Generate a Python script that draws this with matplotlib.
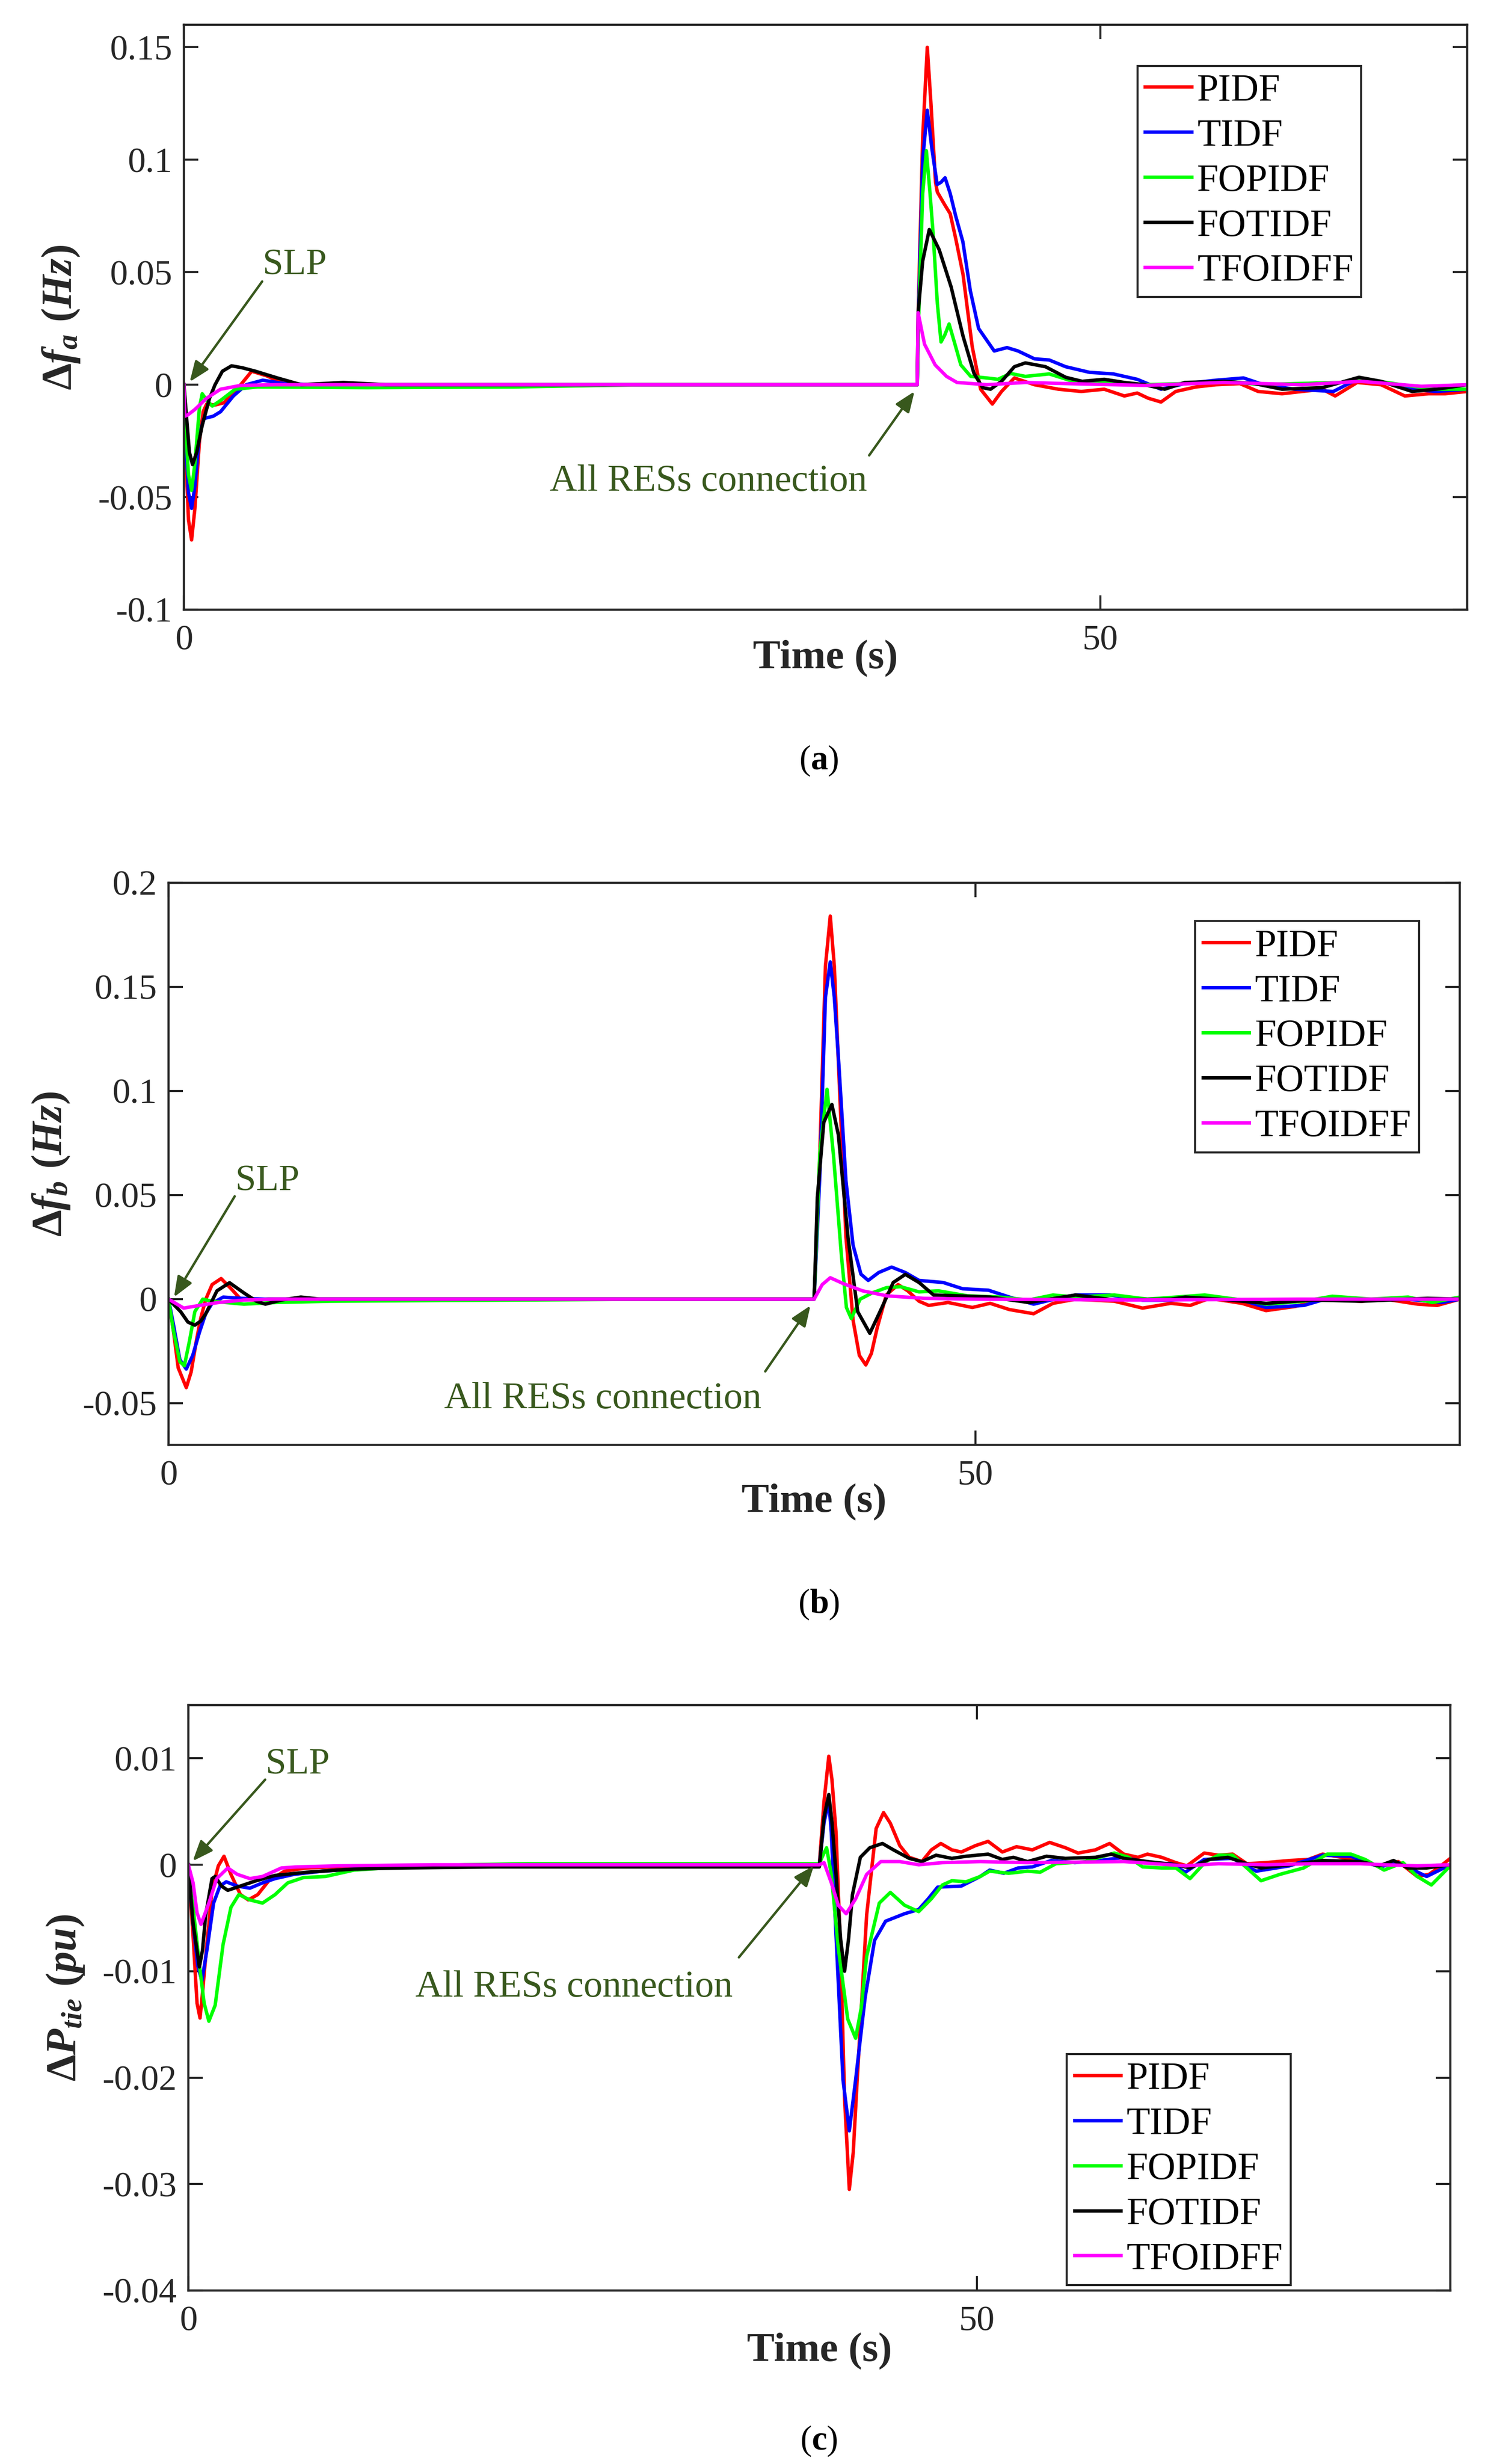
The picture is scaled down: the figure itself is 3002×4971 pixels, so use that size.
import numpy as np
import matplotlib
matplotlib.use("Agg")
import matplotlib.pyplot as plt

plt.rcParams['font.family'] = ['Liberation Serif', 'DejaVu Serif']
plt.rcParams['mathtext.fontset'] = 'custom'
plt.rcParams['mathtext.rm'] = 'Liberation Serif:bold'
plt.rcParams['mathtext.it'] = 'Liberation Serif:italic:bold'
plt.rcParams['mathtext.bf'] = 'Liberation Serif:bold'

labels = ['PIDF', 'TIDF', 'FOPIDF', 'FOTIDF', 'TFOIDFF']
colors = ['#ff0000', '#0000ff', '#00ff00', '#000000', '#ff00ff']

# ---------------- panel (a): delta f_a ----------------
ta_pidf = [0, 0.1, 0.25, 0.42, 0.6, 0.85, 1.05, 1.24, 1.7, 2.2, 2.6, 3.1, 3.7, 4.5, 5.6, 10, 40,
           40.08, 40.3, 40.55, 40.75, 41.0, 41.1, 41.5, 41.8, 42.1, 42.5, 43.0, 43.46, 44.1, 44.6,
           45.3, 46.4, 47.7, 48.95, 50.2, 51.3, 52.0, 52.6, 53.3, 54.1, 55.2, 56.3, 57.6, 58.6,
           59.9, 61.0, 62.1, 62.8, 64.0, 65.3, 66.6, 67.9, 68.8, 70]
fa_pidf = [0, -0.03, -0.06, -0.069, -0.055, -0.025, -0.012, -0.0086, -0.009, -0.008, -0.004, 0.0,
           0.006, 0.004, 0.0, 0, 0,
           0.04, 0.11, 0.15, 0.125, 0.09, 0.0856, 0.08, 0.076, 0.065, 0.049, 0.017, -0.002, -0.0086,
           -0.003, 0.003, 0.0, -0.002, -0.003, -0.002, -0.005, -0.0037, -0.006, -0.0077, -0.003,
           -0.001, 0.0, 0.0005, -0.003, -0.004, -0.003, -0.002, -0.005, 0.001, 0.0, -0.005, -0.004,
           -0.004, -0.003]
ta_tidf = [0, 0.1, 0.25, 0.42, 0.6, 0.85, 1.1, 1.6, 2.0, 2.7, 3.4, 4.3, 5.5, 7.0, 40,
           40.08, 40.3, 40.55, 40.8, 41.09, 41.3, 41.52, 41.8, 42.1, 42.49, 42.9, 43.35, 43.8,
           44.2, 44.9, 45.5, 46.4, 47.2, 48.1, 49.4, 50.7, 52.0, 53.3, 54.6, 56.3, 57.8, 58.9,
           60.6, 62.7, 64.0, 65.8, 67.0, 68.3, 70]
fa_tidf = [0, -0.025, -0.048, -0.055, -0.045, -0.022, -0.015, -0.014, -0.012, -0.005, 0.0, 0.002,
           0.0005, 0, 0,
           0.035, 0.1, 0.122, 0.105, 0.089, 0.09, 0.092, 0.085, 0.075, 0.0636, 0.0417, 0.025,
           0.0197, 0.015, 0.0165, 0.015, 0.0115, 0.011, 0.008, 0.0055, 0.0048, 0.0024, -0.002,
           0.0005, 0.002, 0.003, 0.0, -0.002, -0.003, 0.0024, 0.0005, -0.002, -0.003, -0.002]
ta_fopidf = [0, 0.1, 0.25, 0.42, 0.6, 0.85, 1.0, 1.25, 1.55, 2.0, 2.8, 4.0, 10, 18, 25, 40,
             40.08, 40.3, 40.5, 40.7, 40.87, 41.1, 41.3, 41.5, 41.74, 42.06, 42.38, 42.92, 43.8,
             44.4, 45.1, 45.9, 47.2, 48.5, 50.2, 52.4, 54.6, 56.7, 58.9, 60.6, 63.2, 64.5, 66.4,
             68.3, 70]
fa_fopidf = [0, -0.02, -0.04, -0.047, -0.035, -0.01, -0.004, -0.007, -0.0095, -0.007, -0.002,
             -0.001, -0.0013, -0.001, 0, 0,
             0.03, 0.085, 0.104, 0.085, 0.067, 0.036, 0.019, 0.022, 0.027, 0.018, 0.0088, 0.0037,
             0.003, 0.0024, 0.005, 0.0037, 0.0048, 0.0015, 0.001, 0.0, 0.0005, 0.0015, 0.0, 0.0005,
             0.001, 0.0024, 0.0, -0.002, -0.002]
ta_fotidf = [0, 0.15, 0.3, 0.47, 0.7, 1.0, 1.4, 1.7, 2.1, 2.6, 3.2, 3.9, 5.1, 6.4, 8.7, 11, 40,
             40.05, 40.3, 40.66, 41.2, 41.85, 42.5, 43.1, 43.57, 44.0, 44.6, 45.3, 45.9, 47.0,
             48.1, 49.0, 50.2, 51.3, 52.4, 53.5, 54.6, 56.7, 58.4, 59.9, 62.1, 64.1, 65.3, 67.0,
             68.3, 70]
fa_fotidf = [0, -0.015, -0.03, -0.0355, -0.03, -0.018, -0.006, 0.0, 0.006, 0.0084, 0.0075, 0.006,
             0.003, 0.0, 0.001, 0, 0,
             0.032, 0.055, 0.069, 0.06, 0.0435, 0.0216, 0.005, -0.0013, -0.002, 0.0015, 0.008,
             0.0097, 0.008, 0.0033, 0.0015, 0.0024, 0.001, 0.0, -0.002, 0.001, 0.0015, 0.0005,
             -0.002, -0.0013, 0.0033, 0.0015, -0.003, -0.002, 0.0]
ta_tfoidff = [0, 0.05, 0.2, 0.6, 1.24, 2.0, 3.1, 5, 40,
              40.05, 40.4, 40.98, 41.6, 42.17, 43.8, 45.9, 48.1, 52.4, 56.7, 61.0, 64.2, 67.5, 70]
fa_tfoidff = [0, -0.014, -0.0135, -0.011, -0.006, -0.002, -0.0003, 0, 0,
              0.032, 0.018, 0.0088, 0.0037, 0.001, 0.0, 0.001, 0.0005, -0.0003, 0.001, 0.0,
              0.0015, -0.0007, 0.0]

# ---------------- panel (b): delta f_b ----------------
tb_pidf = [0, 0.3, 0.6, 1.1, 1.4, 1.73, 2.0, 2.31, 2.7, 3.26, 3.88, 4.47, 5.26, 6.2, 40,
           40.35, 40.7, 41.0, 41.25, 41.53, 41.97, 42.41, 42.8, 43.2, 43.55, 43.9, 44.47, 45.2,
           45.8, 46.5, 47.1, 48.3, 49.8, 50.9, 52.1, 53.6, 54.8, 56.2, 58.6, 60.35, 62.1, 63.3,
           64.5, 66.5, 68.0, 69.8, 71.5, 73.9, 75.4, 77.4, 78.6, 80]
fb_pidf = [0, -0.015, -0.033, -0.0425, -0.035, -0.0198, -0.009, 0.0, 0.007, 0.0099, 0.005, 0.0,
           -0.0004, 0, 0,
           0.069, 0.16, 0.184, 0.16, 0.109, 0.03, -0.01, -0.027, -0.0316, -0.026, -0.014, 0.002,
           0.007, 0.004, -0.001, -0.003, -0.0016, -0.004, -0.002, -0.005, -0.007, -0.002, 0.0,
           -0.001, -0.0043, -0.002, -0.003, 0.0004, -0.002, -0.0055, -0.0035, 0.0, -0.001, 0.0,
           -0.0024, -0.003, 0.0]
tb_tidf = [0, 0.3, 0.7, 1.1, 1.5, 1.92, 2.3, 2.7, 3.39, 4.5, 6, 40,
           40.35, 40.7, 41.0, 41.25, 41.53, 41.97, 42.41, 42.9, 43.35, 44.0, 44.8, 45.65, 46.5,
           48.0, 49.2, 50.8, 52.1, 53.6, 55.1, 56.2, 58.3, 60.35, 62.1, 64.5, 66.5, 68.0, 70.35,
           72.1, 73.9, 76.8, 78.9, 80]
fb_tidf = [0, -0.012, -0.029, -0.0336, -0.027, -0.0158, -0.007, -0.002, 0.001, 0.0004, 0, 0,
           0.059, 0.145, 0.162, 0.145, 0.113, 0.057, 0.026, 0.012, 0.009, 0.0128, 0.0154, 0.0128,
           0.009, 0.008, 0.005, 0.0043, 0.001, -0.0024, 0.0004, 0.002, 0.002, -0.0005, -0.0005,
           0.001, -0.0004, -0.004, -0.003, 0.001, -0.0004, 0.0, -0.0016, 0.0]
tb_fopidf = [0, 0.3, 0.7, 0.98, 1.3, 1.63, 2.12, 2.7, 4.67, 6.6, 10, 20, 30, 40,
             40.35, 40.8, 41.2, 41.7, 42.0, 42.3, 42.85, 43.6, 44.47, 45.35, 46.5, 47.7, 49.5,
             51.5, 53.3, 54.8, 56.2, 58.6, 60.65, 64.2, 66.5, 68.0, 70.35, 72.1, 74.5, 76.8, 78.3,
             80]
fb_fopidf = [0, -0.015, -0.03, -0.032, -0.02, -0.006, 0.0, -0.001, -0.0024, -0.0016, -0.001,
             -0.0005, 0, 0,
             0.07, 0.1008, 0.069, 0.02, -0.004, -0.0093, 0.0, 0.003, 0.0055, 0.006, 0.0035, 0.004,
             0.0016, 0.001, -0.0004, 0.002, 0.001, 0.002, 0.0, 0.002, -0.0004, -0.0024, -0.001,
             0.0014, 0.0, 0.001, -0.0016, 0.001]
tb_fotidf = [0, 0.75, 1.2, 1.63, 2.0, 2.31, 3.0, 3.78, 4.67, 5.45, 6.0, 7.0, 8.2, 9.4, 40,
             40.2, 40.6, 41.1, 41.5, 42.1, 42.7, 43.45, 44.2, 44.9, 45.65, 46.5, 47.4, 48.9, 50.9,
             53.3, 56.2, 58.6, 62.1, 63.0, 65.1, 68.0, 70.9, 73.9, 78.0, 80]
fb_fotidf = [0, -0.006, -0.011, -0.0125, -0.0105, -0.007, 0.004, 0.0079, 0.003, -0.001, -0.0024,
             -0.0004, 0.001, 0, 0,
             0.049, 0.085, 0.0935, 0.079, 0.0296, -0.006, -0.0164, -0.004, 0.008, 0.0119, 0.008,
             0.002, 0.0016, 0.001, -0.0016, 0.002, -0.0004, 0.0, 0.001, 0.0, -0.002, -0.0004,
             -0.001, 0.0004, 0.0]
tb_tfoidff = [0, 0.94, 1.92, 3.1, 4.67, 6.6, 40,
              40.5, 41.0, 41.8, 43.0, 44.5, 46.8, 50, 60, 70, 80]
fb_tfoidff = [0, -0.0043, -0.003, -0.0016, -0.0004, 0, 0,
              0.007, 0.0103, 0.0075, 0.004, 0.0016, 0.0004, 0.0, -0.0004, 0.0, 0.0]

# ---------------- panel (c): delta P_tie ----------------
tc_pidf = [0, 0.3, 0.55, 0.74, 0.9, 1.1, 1.5, 1.9, 2.26, 2.7, 3.3, 3.8, 4.4, 5.1, 6.1, 7.5, 9.5,
           13.5, 30, 40,
           40.3, 40.6, 40.8, 41.06, 41.36, 41.6, 41.9, 42.15, 42.4, 43.0, 43.6, 44.07, 44.5, 45.1,
           45.7, 46.5, 47.1, 47.7, 48.4, 49.0, 49.9, 50.7, 51.6, 52.5, 53.5, 54.6, 55.6, 56.4,
           57.5, 58.4, 59.3, 60.2, 60.8, 61.7, 62.6, 63.3, 64.4, 65.3, 66.2, 67.1, 68.3, 69.8,
           71.0, 71.9, 73.1, 74.3, 75.5, 76.7, 77.9, 78.65, 79.4, 80]
pc_pidf = [0, -0.0067, -0.013, -0.0144, -0.012, -0.0086, -0.0024, -0.0001, 0.0008, -0.0009,
           -0.0028, -0.0033, -0.0028, -0.0015, -0.0006, -0.0003, -0.0002, -0.0001, 0, 0,
           0.006, 0.0102, 0.008, 0.003, -0.0086, -0.022, -0.0305, -0.027, -0.0202, -0.0047,
           0.0034, 0.0049, 0.0039, 0.0018, 0.0007, 0.0003, 0.0014, 0.002, 0.0014, 0.0012, 0.0018,
           0.0022, 0.0012, 0.0017, 0.0014, 0.0021, 0.0016, 0.0011, 0.0014, 0.002, 0.001, 0.0007,
           0.001, 0.0007, 0.0002, -0.0001, 0.0011, 0.0009, 0.001, 0.0001, 0.0002, 0.0004, 0.0005,
           0.001, 0.0007, 0.0003, -0.0001, 0.0003, -0.0011, -0.0009, -0.0001, 0.0006]
tc_tidf = [0, 0.3, 0.6, 0.86, 1.2, 1.6, 2.0, 2.4, 3.1, 3.9, 4.7, 5.5, 6.7, 8.5, 11.5, 15.5, 30, 40,
           40.3, 40.6, 40.76, 41.06, 41.5, 41.9, 42.3, 42.9, 43.5, 44.2, 45.4, 46.3, 46.9, 47.5,
           49.0, 50.2, 50.8, 51.7, 52.6, 53.5, 54.7, 56.2, 57.8, 59.3, 60.8, 62.3, 63.2, 64.4,
           66.2, 67.7, 69.8, 71.9, 73.7, 75.5, 76.7, 78.5, 80]
pc_tidf = [0, -0.0055, -0.0095, -0.0109, -0.0078, -0.0036, -0.002, -0.0016, -0.002, -0.0022,
           -0.0017, -0.0013, -0.0009, -0.0006, -0.0003, -0.0001, 0, 0,
           0.004, 0.006, 0.003, -0.0067, -0.0202, -0.025, -0.0202, -0.0125, -0.0071, -0.0053,
           -0.0046, -0.0042, -0.0032, -0.0021, -0.002, -0.0011, -0.0005, -0.0008, -0.0003,
           -0.0002, 0.0004, 0.0002, 0.0004, 0.0007, 0.0002, 0.0001, -0.0007, 0.0005, 0.0006,
           -0.0006, -0.0001, 0.0009, 0.0008, -0.0002, 0.0002, -0.0011, 0.0]
tc_fopidf = [0, 0.3, 0.7, 1.0, 1.3, 1.7, 2.2, 2.7, 3.2, 3.9, 4.7, 5.5, 6.3, 7.3, 8.7, 10.5, 13.5,
             17.5, 21.5, 40,
             40.2, 40.46, 40.76, 41.2, 41.8, 42.3, 42.65, 43.0, 43.8, 44.5, 45.4, 46.3, 47.1, 47.8,
             48.4, 49.3, 50.2, 50.8, 52.0, 53.2, 54.0, 55.0, 56.85, 58.7, 59.6, 60.5, 61.7, 62.6,
             63.5, 64.5, 65.3, 66.2, 67.1, 68.0, 69.2, 70.7, 72.2, 73.7, 74.6, 75.8, 77.0, 77.9,
             78.8, 80]
pc_fopidf = [0, -0.004, -0.0094, -0.013, -0.0147, -0.0132, -0.0075, -0.004, -0.0028, -0.0033,
             -0.0036, -0.0028, -0.0017, -0.0012, -0.0011, -0.0005, -0.0002, 0.0, 0.0001, 0.0001,
             0.0008, 0.0016, -0.0009, -0.0078, -0.0145, -0.0163, -0.0135, -0.0086, -0.0036,
             -0.0026, -0.0038, -0.0044, -0.0032, -0.0019, -0.0015, -0.0016, -0.0011, -0.0006,
             -0.0008, -0.0006, -0.0007, 0.0001, 0.0003, 0.0011, 0.0007, -0.0002, -0.0003, -0.0003,
             -0.0013, 0.0003, 0.0009, 0.0009, -0.0003, -0.0015, -0.0009, -0.0003, 0.001, 0.001,
             0.0005, -0.0005, 0.0002, -0.0011, -0.0019, -0.0001]
tc_fotidf = [0, 0.3, 0.7, 0.9, 1.1, 1.5, 1.7, 2.1, 2.5, 3.3, 4.3, 5.5, 7.5, 10.5, 13.5, 19.5, 40,
             40.3, 40.6, 40.8, 41.06, 41.35, 41.6, 41.85, 42.1, 42.6, 43.2, 44.0, 44.7, 45.7, 46.5,
             47.4, 48.4, 49.3, 50.7, 51.6, 52.3, 53.2, 54.4, 55.6, 57.5, 58.5, 59.3, 60.8, 62.6,
             63.5, 64.7, 65.9, 67.1, 68.0, 69.8, 71.9, 74.3, 75.5, 76.4, 77.3, 78.5, 80]
pc_fotidf = [0, -0.0055, -0.0096, -0.008, -0.0047, -0.0013, -0.0011, -0.002, -0.0024, -0.002,
             -0.0015, -0.001, -0.0007, -0.0004, -0.0003, -0.0002, -0.0002,
             0.0045, 0.0066, 0.004, -0.0009, -0.007, -0.01, -0.007, -0.0028, 0.0007, 0.0016, 0.002,
             0.0014, 0.0006, 0.0003, 0.0009, 0.0006, 0.0008, 0.001, 0.0005, 0.0007, 0.0003, 0.0008,
             0.0006, 0.0007, 0.001, 0.0006, 0.0003, 0.0, -0.0003, 0.0005, 0.0007, 0.0001, -0.0003,
             0.0, 0.0004, 0.0003, -0.0001, 0.0004, -0.0003, -0.0003, 0.0]
tc_tfoidff = [0, 0.3, 0.55, 0.8, 1.3, 1.8, 2.5, 3.1, 3.9, 4.7, 5.9, 6.9, 9.5, 15.5, 40,
              40.3, 40.76, 41.2, 41.7, 42.3, 43.0, 43.9, 45.1, 46.3, 47.8, 50.2, 53.2, 59.3, 63.2,
              65.3, 68.3, 71.3, 74.3, 75.8, 77.9, 80]
pc_tfoidff = [0, -0.0017, -0.0045, -0.0056, -0.0036, -0.0013, -0.0003, -0.0009, -0.0013,
              -0.0011, -0.0003, -0.0002, -0.0001, 0, 0,
              0.0002, -0.0017, -0.0038, -0.0046, -0.0032, -0.0009, 0.0003, 0.0003, 0.0, 0.0002,
              0.0003, 0.0002, 0.0003, -0.0001, 0.0001, 0.0, 0.0001, 0.0001, 0.0, -0.0001, 0.0]

yticks_a = [-0.1, -0.05, 0, 0.05, 0.1, 0.15]
yticks_b = [-0.05, 0, 0.05, 0.1, 0.15, 0.2]
yticks_c = [-0.04, -0.03, -0.02, -0.01, 0, 0.01]
xticks = [0, 50]

# ---------------- figure ----------------
W, H = 3002, 4971
fig = plt.figure(figsize=(W / 100, H / 100), dpi=100)
axcol = '#262626'
anncol = '#38581d'


def place(l, r, t, b):
    return [l / W, 1 - b / H, (r - l) / W, (b - t) / H]


panels = [
    dict(box=(371, 2960, 50, 1230), xlim=(0, 70), ylim=(-0.1, 0.16), yticks=yticks_a,
         series=[(ta_pidf, fa_pidf), (ta_tidf, fa_tidf), (ta_fopidf, fa_fopidf),
                 (ta_fotidf, fa_fotidf), (ta_tfoidff, fa_tfoidff)],
         ylabel=r'$\Delta f_a\ (Hz)$', ylab_x=165, xlab_base=1348,
         leg=(0.743, 0.930),
         slp=((4.3, 0.049), (4.27, 0.0459), (0.32, 0.0013)),
         res=((19.95, -0.0472), (37.38, -0.0314), (39.85, -0.003)),
         cap='($\\mathbf{a}$)', cap_y=1535),
    dict(box=(340, 2945, 1781, 2915), xlim=(0, 80), ylim=(-0.07, 0.2), yticks=yticks_b,
         series=[(tb_pidf, fb_pidf), (tb_tidf, fb_tidf), (tb_fopidf, fb_fopidf),
                 (tb_fotidf, fb_fotidf), (tb_tfoidff, fb_tfoidff)],
         ylabel=r'$\Delta f_b\ (Hz)$', ylab_x=145, xlab_base=3050,
         leg=(0.795, 0.932),
         slp=((4.15, 0.0522), (4.1, 0.0494), (0.34, 0.001)),
         res=((17.06, -0.0525), (36.97, -0.0347), (39.77, -0.0031)),
         cap='($\\mathbf{b}$)', cap_y=3237),
    dict(box=(380, 2926, 3440, 4621), xlim=(0, 80), ylim=(-0.04, 0.015), yticks=yticks_c,
         series=[(tc_pidf, pc_pidf), (tc_tidf, pc_tidf), (tc_fopidf, pc_fopidf),
                 (tc_fotidf, pc_fotidf), (tc_tfoidff, pc_tfoidff)],
         ylabel=r'$\Delta P_{tie}\ (pu)$', ylab_x=174, xlab_base=4763,
         leg=(0.696, 0.404),
         slp=((4.9, 0.00857), (4.87, 0.008), (0.28, 0.00035)),
         res=((14.4, -0.01237), (34.9, -0.0087), (39.65, -0.0001)),
         cap='($\\mathbf{c}$)', cap_y=4925),
]

for p in panels:
    l, r, t, b = p['box']
    ax = fig.add_axes(place(l, r, t, b))
    for (tt, vv), c, lab in zip(p['series'], colors, labels):
        ax.plot(tt, vv, color=c, lw=5, label=lab, solid_joinstyle='round')
    ax.set_xlim(*p['xlim'])
    ax.set_ylim(*p['ylim'])
    ax.set_xticks(xticks, labels=[f'{v:g}' for v in xticks])
    ax.set_yticks(p['yticks'], labels=[f'{v:g}' for v in p['yticks']])
    ax.tick_params(direction='in', length=21, width=3, colors=axcol, labelsize=52,
                   top=True, right=True)
    ax.tick_params(axis='x', pad=22)
    ax.tick_params(axis='y', pad=17)
    for s in ax.spines.values():
        s.set_linewidth(3.2)
        s.set_color(axcol)

    ax.set_ylabel(p['ylabel'], fontsize=62, color=axcol)
    ax.yaxis.set_label_coords((p['ylab_x'] - l) / (r - l), 0.5)
    ax.set_xlabel('Time (s)', fontsize=60, fontweight='bold', color=axcol)
    ax.xaxis.label.set_va('baseline')
    ax.xaxis.set_label_coords(0.5, (b - p['xlab_base']) / (b - t))

    leg = ax.legend(loc='upper left', bbox_to_anchor=p['leg'], borderaxespad=0,
                    fontsize=56, handlelength=1.2, handletextpad=0.15, borderpad=0.2,
                    labelspacing=0.25, fancybox=False, framealpha=1)
    leg.get_frame().set_edgecolor(axcol)
    leg.get_frame().set_linewidth(3)

    arrow = dict(arrowstyle='-|>,head_length=0.5,head_width=0.2', lw=3.5, color=anncol,
                 shrinkA=0, shrinkB=0, mutation_scale=50)
    txt, start, tip = p['slp']
    ax.text(*txt, 'SLP', fontsize=54, color=anncol, ha='left', va='baseline')
    ax.annotate('', xy=tip, xytext=start, arrowprops=arrow)
    txt, start, tip = p['res']
    ax.text(*txt, 'All RESs connection', fontsize=55, color=anncol, ha='left', va='baseline')
    ax.annotate('', xy=tip, xytext=start, arrowprops=arrow)

    fig.text(1652 / W, 1 - p['cap_y'] / H, p['cap'], fontsize=50, ha='center', va='center',
             color='black')

fig.savefig('out.png', dpi=100)
